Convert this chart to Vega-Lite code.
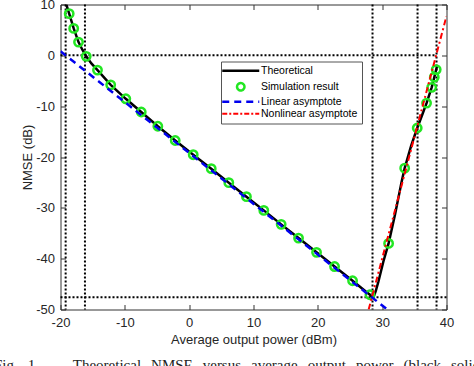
{
  "$schema": "https://vega.github.io/schema/vega-lite/v6.json",
  "width": 386,
  "height": 305,
  "autosize": "none",
  "padding": {"left": 60.5, "top": 4.5, "right": 27.5, "bottom": 56.5},
  "background": "white",
  "config": {"view": {"stroke": null}, "font": "Liberation Sans"},
  "title": {
    "text": "Fig.\u00a0\u00a0\u20061.\u00a0\u00a0\u00a0\u00a0\u00a0\u00a0\u00a0\u00a0\u00a0Theoretical\u00a0\u00a0\u2006NMSE\u00a0\u00a0\u2006versus\u00a0\u00a0\u2006average\u00a0\u00a0\u2006output\u00a0\u00a0\u2006power\u00a0\u00a0\u2006(black\u00a0\u00a0\u2006solid",
    "orient": "bottom",
    "anchor": "start",
    "frame": "group",
    "font": "Liberation Serif",
    "fontSize": 15,
    "fontWeight": "normal",
    "color": "#222222",
    "baseline": "top",
    "offset": 11,
    "dx": -66.5
  },
  "datasets": {
    "curves": [
      {"series": "Theoretical", "x": -19.1, "y": 10},
      {"series": "Theoretical", "x": -18.65, "y": 8.2},
      {"series": "Theoretical", "x": -17.95, "y": 5.3},
      {"series": "Theoretical", "x": -17.2, "y": 2.6},
      {"series": "Theoretical", "x": -16.6, "y": 1.1},
      {"series": "Theoretical", "x": -16.0, "y": -0.2},
      {"series": "Theoretical", "x": -15.2, "y": -1.6},
      {"series": "Theoretical", "x": -14.25, "y": -2.9},
      {"series": "Theoretical", "x": -12.2, "y": -5.8},
      {"series": "Theoretical", "x": -9.85, "y": -8.55},
      {"series": "Theoretical", "x": -7.45, "y": -11.15},
      {"series": "Theoretical", "x": -4.87, "y": -13.95},
      {"series": "Theoretical", "x": -2.17, "y": -16.75},
      {"series": "Theoretical", "x": 0.63, "y": -19.55},
      {"series": "Theoretical", "x": 3.43, "y": -22.3},
      {"series": "Theoretical", "x": 6.16, "y": -25.05},
      {"series": "Theoretical", "x": 8.9, "y": -27.8},
      {"series": "Theoretical", "x": 11.6, "y": -30.5},
      {"series": "Theoretical", "x": 14.3, "y": -33.25},
      {"series": "Theoretical", "x": 17.0, "y": -35.95},
      {"series": "Theoretical", "x": 19.8, "y": -38.75},
      {"series": "Theoretical", "x": 22.6, "y": -41.55},
      {"series": "Theoretical", "x": 25.4, "y": -44.35},
      {"series": "Theoretical", "x": 27.5, "y": -46.5},
      {"series": "Theoretical", "x": 28.1, "y": -47.1},
      {"series": "Theoretical", "x": 28.45, "y": -47.55},
      {"series": "Theoretical", "x": 28.7, "y": -47.4},
      {"series": "Theoretical", "x": 29.0, "y": -46.4},
      {"series": "Theoretical", "x": 29.4, "y": -44.6},
      {"series": "Theoretical", "x": 30.2, "y": -40.5},
      {"series": "Theoretical", "x": 31.0, "y": -37.0},
      {"series": "Theoretical", "x": 32.0, "y": -31.3},
      {"series": "Theoretical", "x": 33.0, "y": -25.0},
      {"series": "Theoretical", "x": 33.5, "y": -22.2},
      {"series": "Theoretical", "x": 34.5, "y": -17.8},
      {"series": "Theoretical", "x": 35.45, "y": -14.3},
      {"series": "Theoretical", "x": 36.2, "y": -11.8},
      {"series": "Theoretical", "x": 36.9, "y": -9.4},
      {"series": "Theoretical", "x": 37.7, "y": -6.3},
      {"series": "Theoretical", "x": 38.1, "y": -4.3},
      {"series": "Theoretical", "x": 38.55, "y": -2.0},
      {"series": "Linear asymptote", "x": -20, "y": 0.8},
      {"series": "Linear asymptote", "x": 30.8, "y": -50},
      {"series": "Nonlinear asymptote", "x": 27.9, "y": -50},
      {"series": "Nonlinear asymptote", "x": 40, "y": 7.7}
    ],
    "sim": [
      {"x": -18.65, "y": 8.2}, {"x": -17.95, "y": 5.3}, {"x": -17.2, "y": 2.6},
      {"x": -16.0, "y": -0.2}, {"x": -14.25, "y": -2.9}, {"x": -12.2, "y": -5.8},
      {"x": -9.85, "y": -8.55}, {"x": -7.45, "y": -11.15}, {"x": -4.87, "y": -13.95},
      {"x": -2.17, "y": -16.75}, {"x": 0.63, "y": -19.55}, {"x": 3.43, "y": -22.3},
      {"x": 6.16, "y": -25.05}, {"x": 8.9, "y": -27.8}, {"x": 11.6, "y": -30.5},
      {"x": 14.3, "y": -33.25}, {"x": 17.0, "y": -35.95}, {"x": 19.8, "y": -38.75},
      {"x": 22.6, "y": -41.55}, {"x": 25.4, "y": -44.35}, {"x": 28.1, "y": -47.1},
      {"x": 31.0, "y": -37.0}, {"x": 33.5, "y": -22.2}, {"x": 35.45, "y": -14.3},
      {"x": 36.9, "y": -9.4}, {"x": 37.7, "y": -6.3}, {"x": 38.1, "y": -4.3},
      {"x": 38.4, "y": -2.8}
    ],
    "vlines": [{"x": -19.2}, {"x": -16.2}, {"x": 28.5}, {"x": 35.5}, {"x": 38.45}],
    "hlines": [{"y": 0, "x1": -20, "x2": 38.45}, {"y": -47.6, "x1": -20, "x2": 40}]
  },
  "layer": [
    {
      "data": {"name": "vlines"},
      "mark": {"type": "rule", "color": "black", "strokeWidth": 2, "strokeDash": [2, 2]},
      "encoding": {
        "x": {
          "field": "x", "type": "quantitative",
          "scale": {"domain": [-20, 40], "nice": false, "zero": false},
          "axis": {
            "orient": "bottom", "values": [-20, -10, 0, 10, 20, 30, 40], "grid": false, "labelFlush": false,
            "labelExpr": "datum.value < 0 ? '-' + abs(datum.value) : '' + datum.value",
            "tickSize": -5, "tickColor": "#333333", "domainColor": "#333333",
            "labelFontSize": 13, "labelColor": "#262626", "labelPadding": 11.5, "labelFont": "Liberation Sans",
            "title": "Average output power (dBm)", "titleFontSize": 13, "titleFontWeight": "normal",
            "titleColor": "#262626", "titleFont": "Liberation Sans",
            "titleX": 193, "titleY": 34, "titleAlign": "center", "titleBaseline": "alphabetic"
          }
        }
      }
    },
    {
      "data": {"name": "hlines"},
      "mark": {"type": "rule", "color": "black", "strokeWidth": 2, "strokeDash": [2, 2]},
      "encoding": {
        "x": {"field": "x1", "type": "quantitative", "scale": {"domain": [-20, 40], "nice": false, "zero": false}, "axis": null},
        "x2": {"field": "x2"},
        "y": {
          "field": "y", "type": "quantitative",
          "scale": {"domain": [-50, 10], "nice": false, "zero": false},
          "axis": {
            "orient": "left", "values": [-50, -40, -30, -20, -10, 0, 10], "grid": false, "labelFlush": false,
            "labelExpr": "datum.value < 0 ? '-' + abs(datum.value) : '' + datum.value",
            "tickSize": -5, "tickColor": "#333333", "domainColor": "#333333",
            "labelFontSize": 13, "labelColor": "#262626", "labelPadding": 11, "labelFont": "Liberation Sans",
            "title": "NMSE (dB)", "titleFontSize": 13, "titleFontWeight": "normal",
            "titleColor": "#262626", "titleFont": "Liberation Sans",
            "titleX": -33.5, "titleY": 152.5, "titleAngle": -90, "titleAlign": "center", "titleBaseline": "middle"
          }
        }
      }
    },
    {
      "data": {"name": "curves"},
      "transform": [{"filter": "datum.series === 'Theoretical'"}],
      "mark": {"type": "line", "strokeWidth": 2.5, "clip": true},
      "encoding": {
        "x": {
          "field": "x", "type": "quantitative", "scale": {"domain": [-20, 40], "nice": false, "zero": false},
          "axis": {"orient": "top", "values": [-20, -10, 0, 10, 20, 30, 40], "grid": false, "labels": false, "title": null,
                   "tickSize": -5, "tickColor": "#333333", "domainColor": "#333333"}
        },
        "y": {
          "field": "y", "type": "quantitative", "scale": {"domain": [-50, 10], "nice": false, "zero": false},
          "axis": {"orient": "right", "values": [-50, -40, -30, -20, -10, 0, 10], "grid": false, "labels": false, "title": null,
                   "tickSize": -5, "tickColor": "#333333", "domainColor": "#333333"}
        },
        "color": {
          "field": "series", "type": "nominal",
          "scale": {"domain": ["Theoretical", "Simulation result", "Linear asymptote", "Nonlinear asymptote"],
                    "range": ["#000000", "#22e622", "#0000ee", "#ff0000"]},
          "legend": {
            "title": null, "orient": "none", "legendX": 160.5, "legendY": 57,
            "labelFont": "Liberation Sans", "labelFontSize": 10.5, "labelColor": "#000000",
            "strokeColor": "#555555", "fillColor": "#ffffff", "padding": 4,
            "symbolType": "stroke", "symbolSize": 64, "symbolStrokeWidth": 2.5,
            "symbolOffset": 10.5, "labelOffset": 15, "rowPadding": 1,
            "encode": {
              "symbols": {
                "update": {
                  "shape": {"signal": "datum.value === 'Simulation result' ? 'circle' : 'stroke'"},
                  "size": {"signal": "datum.value === 'Simulation result' ? 55 : 1369"},
                  "strokeDash": {"signal": "datum.value === 'Linear asymptote' ? [7, 5] : datum.value === 'Nonlinear asymptote' ? [5, 2, 2, 2] : [1, 0]"},
                  "strokeWidth": {"signal": "datum.value === 'Nonlinear asymptote' ? 2 : 2.5"},
                  "fill": {"value": "transparent"}
                }
              }
            }
          }
        }
      }
    },
    {
      "data": {"name": "sim"},
      "mark": {"type": "point", "shape": "circle", "filled": false, "color": "#22e622", "strokeWidth": 2.5, "size": 70, "opacity": 1},
      "encoding": {
        "x": {"field": "x", "type": "quantitative", "scale": {"domain": [-20, 40], "nice": false, "zero": false}, "axis": null},
        "y": {"field": "y", "type": "quantitative", "scale": {"domain": [-50, 10], "nice": false, "zero": false}, "axis": null}
      }
    },
    {
      "data": {"name": "curves"},
      "transform": [{"filter": "datum.series === 'Linear asymptote'"}],
      "mark": {"type": "line", "strokeWidth": 2.5, "strokeDash": [7, 5], "clip": true},
      "encoding": {
        "x": {"field": "x", "type": "quantitative", "scale": {"domain": [-20, 40], "nice": false, "zero": false}, "axis": null},
        "y": {"field": "y", "type": "quantitative", "scale": {"domain": [-50, 10], "nice": false, "zero": false}, "axis": null},
        "color": {
          "field": "series", "type": "nominal",
          "scale": {"domain": ["Theoretical", "Simulation result", "Linear asymptote", "Nonlinear asymptote"],
                    "range": ["#000000", "#22e622", "#0000ee", "#ff0000"]}
        }
      }
    },
    {
      "data": {"name": "curves"},
      "transform": [{"filter": "datum.series === 'Nonlinear asymptote'"}],
      "mark": {"type": "line", "strokeWidth": 2, "strokeDash": [6, 3, 2, 3], "clip": true},
      "encoding": {
        "x": {"field": "x", "type": "quantitative", "scale": {"domain": [-20, 40], "nice": false, "zero": false}, "axis": null},
        "y": {"field": "y", "type": "quantitative", "scale": {"domain": [-50, 10], "nice": false, "zero": false}, "axis": null},
        "color": {
          "field": "series", "type": "nominal",
          "scale": {"domain": ["Theoretical", "Simulation result", "Linear asymptote", "Nonlinear asymptote"],
                    "range": ["#000000", "#22e622", "#0000ee", "#ff0000"]}
        }
      }
    }
  ],
  "resolve": {"axis": {"x": "independent", "y": "independent"}}
}
